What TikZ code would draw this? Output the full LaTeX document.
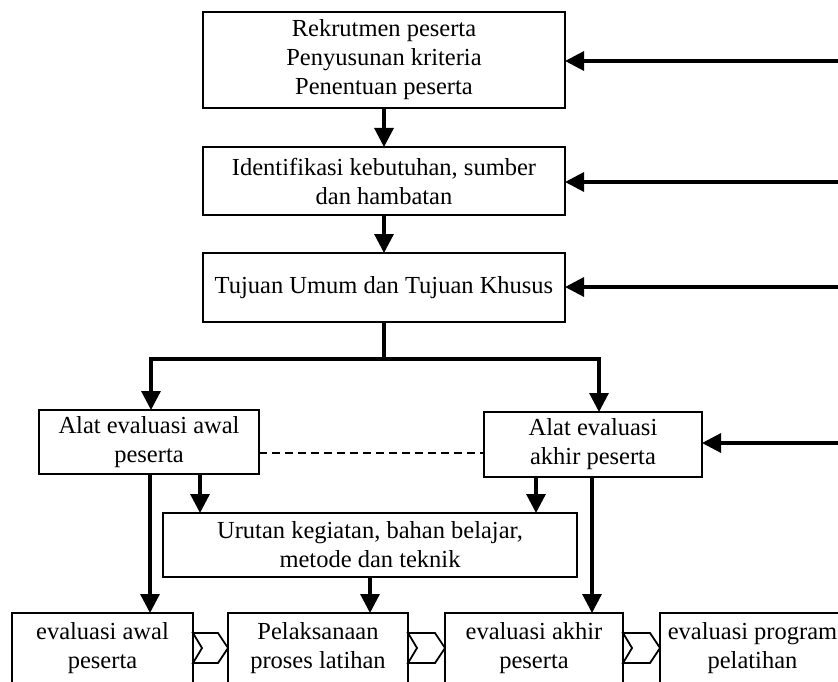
\documentclass[tikz,border=0pt]{standalone}
\usepackage{fontspec}
\setmainfont{Liberation Serif}
\usetikzlibrary{arrows.meta,calc}
\begin{document}
\begin{tikzpicture}[x=1pt,y=-1pt,
  box/.style={draw, line width=2pt, inner sep=0pt, outer sep=0pt, align=center,
              font=\fontsize{24.5}{29}\selectfont},
  arr/.style={line width=3.2pt, -{Triangle[length=19pt,width=19pt]}},
  ln/.style={line width=3.2pt},
  chev/.style={draw, fill=white, line width=1.8pt, line join=miter},
  dline/.style={line width=2.4pt, dash pattern=on 8pt off 5pt}]
\clip (0,0) rectangle (838,682);
% boxes
\node[box, minimum width=362pt, minimum height=96pt] (r1) at (384,60)
  {Rekrutmen peserta\\Penyusunan kriteria\\Penentuan peserta};
\node[box, minimum width=362pt, minimum height=68pt] (r2) at (384,181)
  {Identifikasi kebutuhan, sumber\\dan hambatan};
\node[box, minimum width=362pt, minimum height=69pt] (r3) at (384,287.5)
  {Tujuan Umum dan Tujuan Khusus};
\node[box, minimum width=220pt, minimum height=64pt] (aw) at (149,442)
  {Alat evaluasi awal\\peserta};
\node[box, minimum width=218pt, minimum height=65pt] (ak) at (593,444.5)
  {Alat evaluasi\\akhir peserta};
\node[box, minimum width=414pt, minimum height=64pt] (ur) at (370,545)
  {Urutan kegiatan, bahan belajar,\\metode dan teknik};
\node[box, minimum width=181pt, minimum height=71pt] (e1) at (102.5,648.5)
  {evaluasi awal\\peserta};
\node[box, minimum width=180pt, minimum height=71pt] (e2) at (318,648.5)
  {Pelaksanaan\\proses latihan};
\node[box, minimum width=178pt, minimum height=71pt] (e3) at (534,648.5)
  {evaluasi akhir\\peserta};
\node[box, minimum width=185pt, minimum height=71pt] (e4) at (752.5,648.5)
  {evaluasi program\\pelatihan};
% helper coordinates
\coordinate (split) at (0,359);
\coordinate (xA) at (151,0);
\coordinate (xB) at (599,0);
\coordinate (xC) at (150,0);
\coordinate (xD) at (200,0);
\coordinate (xE) at (536,0);
\coordinate (xF) at (592,0);
\coordinate (xU) at (370,0);
\coordinate (fb1) at (838,61);
\coordinate (fb2) at (838,182);
\coordinate (fb3) at (838,287);
\coordinate (fb4) at (838,443);
\coordinate (dy) at (0,453);
\coordinate (cy) at (0,648);
% vertical flow
\draw[arr] (r1.south) -- (r2.north);
\draw[arr] (r2.south) -- (r3.north);
\draw[ln] (r3.south) -- (r3.south |- split);
\draw[ln, line cap=rect] (xA |- split) -- (xB |- split);
\draw[arr] (xA |- split) -- (xA |- aw.north);
\draw[arr] (xB |- split) -- (xB |- ak.north);
\draw[arr] (xC |- aw.south) -- (xC |- e1.north);
\draw[arr] (xD |- aw.south) -- (xD |- ur.north);
\draw[arr] (xE |- ak.south) -- (xE |- ur.north);
\draw[arr] (xF |- ak.south) -- (xF |- e3.north);
\draw[arr] (xU |- ur.south) -- (xU |- e2.north);
% feedback arrows from the right
\draw[arr] (fb1) -- (r1.east |- fb1);
\draw[arr] (fb2) -- (r2.east |- fb2);
\draw[arr] (fb3) -- (r3.east |- fb3);
\draw[arr] (fb4) -- (ak.east |- fb4);
% dashed link
\draw[dline] (aw.east |- dy) -- (ak.west |- dy);
% chevrons
\foreach \a/\b in {e1/e2, e2/e3, e3/e4}{
  \draw[chev] ($(\a.east |- cy)+(0,-15)$) -- ($(\b.west |- cy)+(-10,-15)$)
    -- (\b.west |- cy) -- ($(\b.west |- cy)+(-10,15)$)
    -- ($(\a.east |- cy)+(0,15)$) -- ($(\a.east |- cy)+(9,0)$) -- cycle;
}
\end{tikzpicture}
\end{document}
